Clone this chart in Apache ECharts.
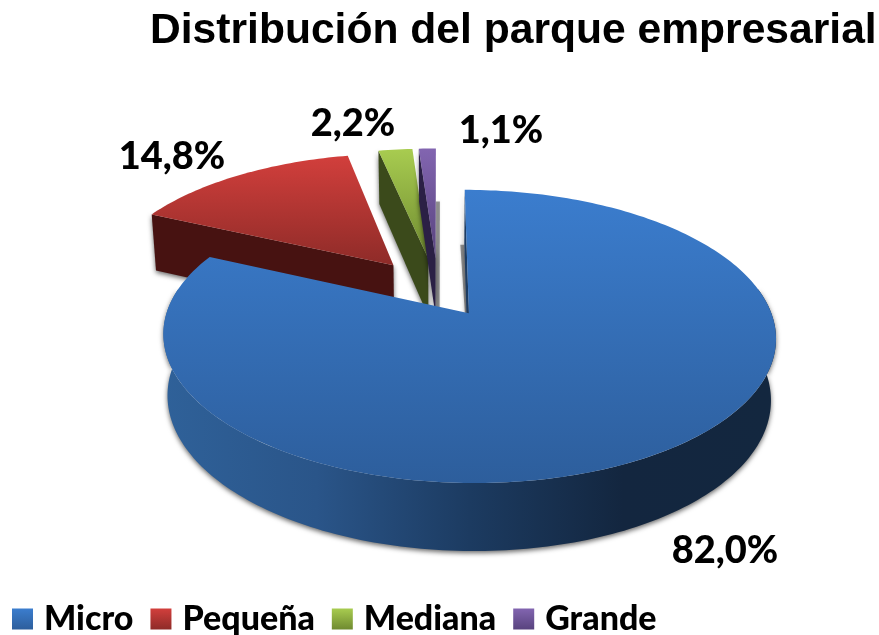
<!DOCTYPE html>
<html>
<head>
<meta charset="utf-8">
<script src="https://cdn.jsdelivr.net/npm/echarts@6/dist/echarts.min.js"></script>
<style>
  html, body { margin: 0; padding: 0; background: #fff; }
  #main { width: 879px; height: 635px; }
</style>
</head>
<body>
<div id="main"></div>
<script>
const categories = ['Micro', 'Pequeña', 'Mediana', 'Grande'];
const shares = [82.0, 14.8, 2.2, 1.1];
const shareLabels = ['82,0%', '14,8%', '2,2%', '1,1%'];

const total = shares.reduce((a, b) => a + b, 0);

// look of each slice: top gradient, cut face, outer wall
const looks = [
  { top: ['#3b7dce', '#2d5e9c'], face: '#1d3c62', wall: ['#2f6199', '#2a5589', '#1c3b61', '#13263f', '#13273f'] },
  { top: ['#d23f3c', '#8e2b28'], face: '#471211', wall: null },
  { top: ['#a8cc50', '#6f8a30'], face: '#3b4a1b', wall: null },
  { top: ['#8265b0', '#58437e'], face: '#2b2045', wall: null }
];
const labelAnchors = [[725, 551], [172, 157], [353, 124], [501, 131]];
const explode = [0.19, 0.25, 0.25, 0.25];

// simple perspective for a tilted disc
const view = { ox: 438, oy: 291, R: 295, K: 136, f: 6.5, depth: 59.5, depthFall: 0.66, floor: 0.985 };

function project(X, Z, low) {
  const s = view.f / (view.f + Z);
  return [
    view.ox + view.R * X * s * (low ? view.floor : 1),
    view.oy - view.K * Z * s + (low ? view.depth * (1 + (s - 1) * view.depthFall) : 0)
  ];
}

function sliceAngles(i) {
  const before = shares.slice(0, i).reduce((a, b) => a + b, 0);
  return [before / total * Math.PI * 2, (before + shares[i]) / total * Math.PI * 2];
}

function arc(cx, cz, a0, a1, low) {
  const pts = [];
  const n = Math.max(2, Math.ceil((a1 - a0) / 0.02));
  for (let k = 0; k <= n; k++) {
    const a = a0 + (a1 - a0) * k / n;
    pts.push(project(cx + Math.sin(a), cz + Math.cos(a), low));
  }
  return pts;
}

const vGrad = c => new echarts.graphic.LinearGradient(0, 0, 0, 1, [
  { offset: 0, color: c[0] }, { offset: 1, color: c[1] }
]);

const shadow = { shadowColor: 'rgba(0,0,0,0.6)', shadowBlur: 5, shadowOffsetX: 0, shadowOffsetY: 2 };

// grey band the cut face throws on the floor, beside its lower edge
function floorShadow(a, b, dx) {
  return {
    type: 'polygon',
    shape: { points: [a, b, [b[0] + dx, b[1]], [a[0] + dx, a[1]]] },
    style: { fill: 'rgba(0,0,0,0.38)', shadowColor: 'rgba(0,0,0,0.3)', shadowBlur: 2 }
  };
}

function sliceItem(i) {
  return function () {
    const [a0, a1] = sliceAngles(i);
    const mid = (a0 + a1) / 2;
    const cx = explode[i] * Math.sin(mid);
    const cz = explode[i] * Math.cos(mid);
    const look = looks[i];
    const children = [];
    const rimOf = a => [cx + Math.sin(a), cz + Math.cos(a)];
    const face = a => {
      const rim = rimOf(a);
      return [project(cx, cz), project(rim[0], rim[1]), project(rim[0], rim[1], true), project(cx, cz, true)];
    };

    if (i === 0) {
      const rim = rimOf(a0);
      children.push(floorShadow(project(rim[0], rim[1], true), project(cx, cz), -4));
    }
    if (i === 3) {
      const rim = rimOf(a1);
      children.push(floorShadow(project(rim[0], rim[1], true), project(cx, cz, true), 4));
      children.push({ type: 'polygon', shape: { points: face(a1) }, style: { fill: look.face } });
    }
    children.push({ type: 'polygon', shape: { points: face(a0) }, style: Object.assign({ fill: look.face }, shadow) });
    if (look.wall) {
      // only the part of the rim that faces the viewer
      const from = 80 * Math.PI / 180;
      const to = Math.min(a1, 280 * Math.PI / 180);
      const pts = arc(cx, cz, from, to).concat(arc(cx, cz, from, to, true).reverse());
      const stops = look.wall.map((c, k) => ({ offset: k / (look.wall.length - 1), color: c }));
      children.push({
        type: 'polygon',
        shape: { points: pts },
        style: Object.assign({ fill: new echarts.graphic.LinearGradient(0, 0, 1, 0, stops) }, shadow)
      });
    }
    children.push({
      type: 'polygon',
      shape: { points: [project(cx, cz)].concat(arc(cx, cz, a0, a1)) },
      style: { fill: vGrad(look.top) }
    });
    children.push({
      type: 'text',
      style: {
        x: labelAnchors[i][0], y: labelAnchors[i][1],
        text: shareLabels[i], fill: '#000',
        font: '900 38px Lato', textAlign: 'center', textVerticalAlign: 'middle'
      }
    });
    return { type: 'group', children: children };
  };
}

const chart = echarts.init(document.getElementById('main'), null, { renderer: 'canvas' });
chart.setOption({
  backgroundColor: '#fff',
  animation: false,
  title: {
    text: 'Distribución del parque empresarial',
    left: 145, top: 5,
    textStyle: { fontFamily: 'Liberation Sans', fontWeight: 'bold', fontSize: 42.6, color: '#000' }
  },
  legend: {
    data: categories,
    left: 7, top: 597,
    itemWidth: 21, itemHeight: 21, itemGap: 17,
    icon: 'rect',
    textStyle: { fontFamily: 'Lato', fontWeight: 900, fontSize: 34, color: '#000', padding: [0, 0, 4, 6] }
  },
  series: categories.map((name, i) => ({
    type: 'custom',
    name: name,
    coordinateSystem: 'none',
    z: i === 0 ? 6 : i + 1,
    silent: true,
    itemStyle: { color: vGrad(looks[i].top) },
    data: [[shares[i]]],
    renderItem: sliceItem(i)
  }))
});
</script>
</body>
</html>
